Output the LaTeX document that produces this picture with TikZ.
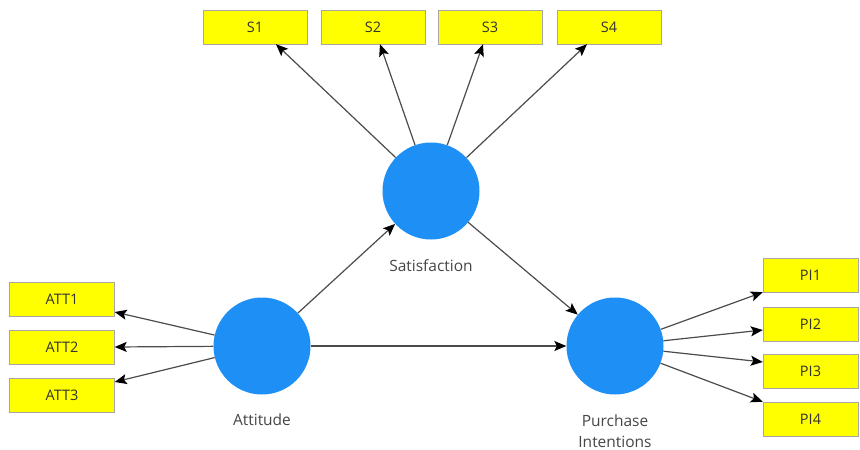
\documentclass[tikz,border=0pt]{standalone}
\usepackage{fontspec}
\setmainfont{Open Sans}
\usepackage{xcolor}
\usepackage{tikz}
\usetikzlibrary{arrows.meta,calc}

\definecolor{lvblue}{RGB}{30,143,245}
\definecolor{itemyellow}{RGB}{255,255,0}
\definecolor{labelgray}{RGB}{70,70,70}

\begin{document}
\begin{tikzpicture}[x=1pt,y=-1pt,
		construct/.style={circle,fill=lvblue,minimum size=97pt,inner sep=0pt},
		item/.style={rectangle,draw=black!35,fill=itemyellow,minimum width=104pt,minimum height=34pt,inner sep=0pt,font=\fontsize{14.5}{16}\selectfont,text=black!80},
		clabel/.style={font=\fontsize{15.5}{21}\selectfont,text=labelgray,align=center},
		path/.style={draw=black!70,line width=1.2pt,-{Stealth[length=12pt,width=10pt,inset=2.5pt,black]}}]
		\useasboundingbox[fill=white] (0,0) rectangle (860,450);

		% latent variables
		\node[construct] (sat) at (431,191) {};
		\node[construct] (att) at (262,346) {};
		\node[construct] (pi) at (615,346) {};
		\node[clabel] (satlabel) at (431,266) {Satisfaction};
		\node[clabel] (attlabel) at (262,420) {Attitude};
		\node[clabel] (pilabel) at (615,431) {Purchase\\Intentions};

		% indicators
		\node[item] (s1) at (255,27) {S1};
		\node[item] (s2) at (373,27) {S2};
		\node[item] (s3) at (490,27) {S3};
		\node[item] (s4) at (609,27) {S4};
		\node[item,minimum width=105pt] (att1) at (62,299) {ATT1};
		\node[item,minimum width=105pt] (att2) at (62,347) {ATT2};
		\node[item,minimum width=105pt] (att3) at (62,395) {ATT3};
		\node[item,minimum width=95pt] (pi1) at (810.5,275) {PI1};
		\node[item,minimum width=95pt] (pi2) at (810.5,324) {PI2};
		\node[item,minimum width=95pt] (pi3) at (810.5,371) {PI3};
		\node[item,minimum width=95pt] (pi4) at (810.5,419) {PI4};

		% structural paths
		\draw[path] (att) -- (sat);
		\draw[path] (sat) -- (pi);
		\draw[path] (att) -- (pi);

		% loadings
		\draw[path] (sat) -- ([xshift=21pt]s1.south);
		\draw[path] (sat) -- ([xshift=7pt]s2.south);
		\draw[path] (sat) -- ([xshift=-7pt]s3.south);
		\draw[path] (sat) -- ([xshift=-22pt]s4.south);
		\draw[path] (att) -- ([yshift=-13pt]att1.east);
		\draw[path] (att) -- (att2.east);
		\draw[path] (att) -- ([yshift=13pt]att3.east);
		\draw[path] (pi) -- (pi1.south west);
		\draw[path] (pi) -- ([yshift=-6pt]pi2.west);
		\draw[path] (pi) -- ([yshift=9pt]pi3.west);
		\draw[path] (pi) -- (pi4.north west);
	\end{tikzpicture}
\end{document}
